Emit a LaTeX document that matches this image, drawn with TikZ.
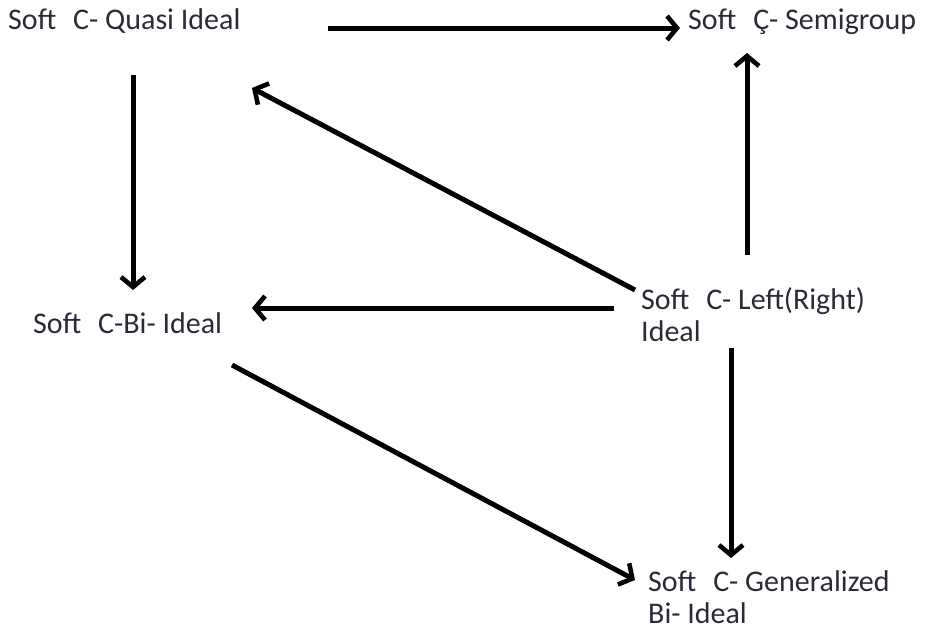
\documentclass[tikz,border=0pt]{standalone}
\usepackage{fontspec}
\setmainfont{Carlito}
\usetikzlibrary{arrows.meta}
\definecolor{txt}{HTML}{2B2B38}
\newcommand{\gapsp}{\hspace{17pt}}
\begin{document}
\begin{tikzpicture}[x=1pt,y=-1pt,
  lbl/.style={anchor=base west,inner sep=0pt,text=txt,font=\fontsize{30}{32}\selectfont,align=left},
  arr/.style={line width=5pt,-{Straight Barb[length=10pt,width=24pt,line width=4.6pt]}}]
\useasboundingbox (0,0) rectangle (925,630);
\node[lbl] (quasi) at (8,29) {Soft\gapsp C- Quasi Ideal};
\node[lbl] (semi) at (688,29) {Soft\gapsp Ç- Semigroup};
\node[lbl] (bi) at (33,333) {Soft\gapsp C-Bi- Ideal};
\node[lbl,anchor=north west] (lr) at (641,287) {Soft\gapsp C- Left(Right)\\Ideal};
\node[lbl,anchor=north west] (gen) at (648,570) {Soft\gapsp C- Generalized\\Bi- Ideal};
\coordinate (a1s) at (328,28); \coordinate (a1e) at (680,28);
\coordinate (a2s) at (133,75); \coordinate (a2e) at (133,290);
\coordinate (a3s) at (635,290); \coordinate (a3e) at (252,88);
\coordinate (a4s) at (747,255); \coordinate (a4e) at (747,53);
\coordinate (a5s) at (614,308); \coordinate (a5e) at (252,308);
\coordinate (a6s) at (731,348); \coordinate (a6e) at (731,558);
\coordinate (a7s) at (232,365); \coordinate (a7e) at (635,580);
\draw[arr] (a1s) -- (a1e);
\draw[arr] (a2s) -- (a2e);
\draw[arr] (a3s) -- (a3e);
\draw[arr] (a4s) -- (a4e);
\draw[arr] (a5s) -- (a5e);
\draw[arr] (a6s) -- (a6e);
\draw[arr] (a7s) -- (a7e);
\end{tikzpicture}
\end{document}
